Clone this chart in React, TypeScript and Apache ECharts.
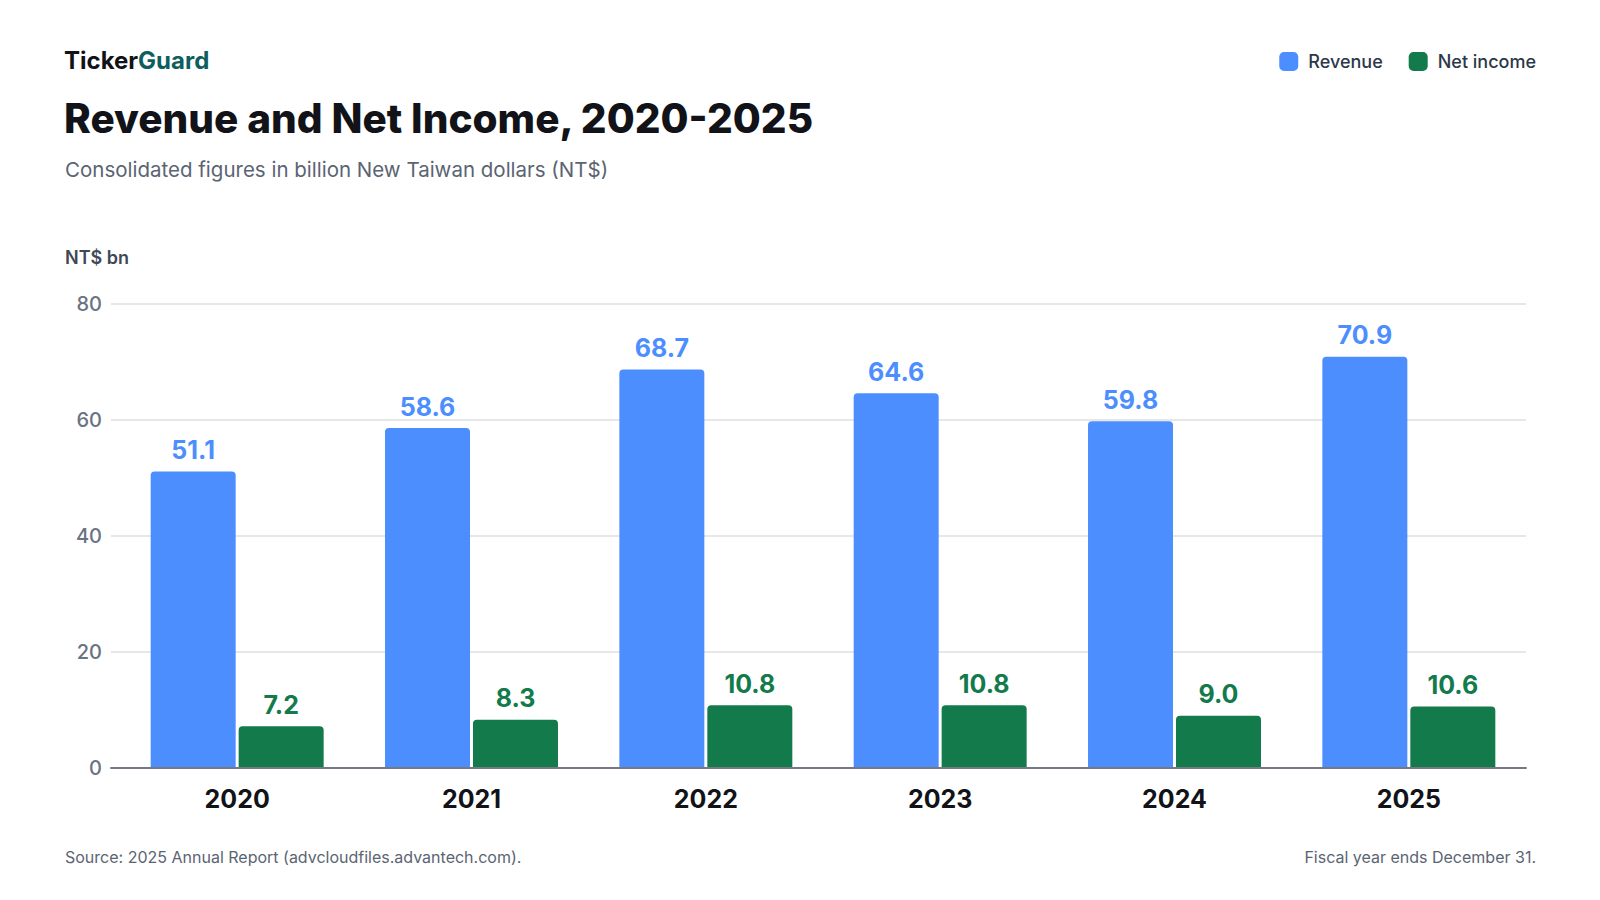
import React, { useEffect, useRef } from "react";
import * as echarts from "echarts";

const years = ["2020", "2021", "2022", "2023", "2024", "2025"];
const revenue = [51.1, 58.6, 68.7, 64.6, 59.8, 70.9];
const netIncome = [7.2, 8.3, 10.8, 10.8, 9.0, 10.6];
const seriesNames = ["Revenue", "Net income"];
const yTicks = { min: 0, max: 80, interval: 20 };

const BLUE = "#4D8EFF";
const GREEN = "#137A4B";
const FONT = "Inter, 'Noto Sans', sans-serif";

export default function App() {
  const ref = useRef<HTMLDivElement>(null);

  useEffect(() => {
    if (!ref.current) return;
    const chart = echarts.init(ref.current, undefined, { renderer: "svg" });
    const labelFmt = (p: any) => Number(p.value).toFixed(1);
    chart.setOption({
      animation: false,
      backgroundColor: "#ffffff",
      textStyle: { fontFamily: FONT },
      legend: {
        right: 59,
        top: 47,
        itemWidth: 19,
        itemHeight: 19,
        itemGap: 26,
        icon: "roundRect",
        data: seriesNames,
        textStyle: {
          fontFamily: FONT,
          fontSize: 18,
          fontWeight: 500,
          color: "#2D3748",
          padding: [0, 0, 0, 5],
        },
      },
      grid: [
        { left: 111, right: 74, top: 304, bottom: 132 },
        { left: 120, right: 74, top: 304, bottom: 132 },
      ],
      xAxis: [
        {
          type: "category",
          gridIndex: 0,
          data: years,
          z: 10,
          axisLine: { show: true, lineStyle: { color: "#747A83", width: 2 } },
          axisTick: { show: false },
          axisLabel: { show: false },
        },
        {
          type: "category",
          gridIndex: 1,
          data: years,
          axisLine: { show: false },
          axisTick: { show: false },
          axisLabel: {
            margin: 18,
            fontFamily: FONT,
            fontSize: 25,
            fontWeight: 700,
            color: "#111318",
          },
        },
      ],
      yAxis: [
        {
          type: "value",
          gridIndex: 0,
          min: yTicks.min,
          max: yTicks.max,
          interval: yTicks.interval,
          axisLine: { show: false },
          axisTick: { show: false },
          splitLine: { lineStyle: { color: "#E6E7E9", width: 2 } },
          axisLabel: {
            margin: 9,
            fontFamily: FONT,
            fontSize: 20,
            fontWeight: 500,
            color: "#6B7280",
          },
        },
        {
          type: "value",
          gridIndex: 1,
          min: yTicks.min,
          max: yTicks.max,
          interval: yTicks.interval,
          show: false,
          splitLine: { show: false },
        },
      ],
      series: [
        {
          name: seriesNames[0],
          type: "bar",
          xAxisIndex: 1,
          yAxisIndex: 1,
          data: revenue,
          barWidth: 85,
          barGap: "3.5%",
          itemStyle: { color: BLUE, borderRadius: [4, 4, 0, 0] },
          label: {
            show: true,
            position: "top",
            distance: 9,
            formatter: labelFmt,
            fontFamily: FONT,
            fontSize: 25,
            fontWeight: 700,
            color: BLUE,
          },
        },
        {
          name: seriesNames[1],
          type: "bar",
          xAxisIndex: 1,
          yAxisIndex: 1,
          data: netIncome,
          barWidth: 85,
          barGap: "3.5%",
          itemStyle: { color: GREEN, borderRadius: [4, 4, 0, 0] },
          label: {
            show: true,
            position: "top",
            distance: 9,
            formatter: labelFmt,
            fontFamily: FONT,
            fontSize: 25,
            fontWeight: 700,
            color: GREEN,
          },
        },
      ],
      graphic: [
        {
          type: "text",
          left: 64,
          top: 48,
          style: {
            text: "{a|Ticker}{b|Guard}",
            rich: {
              a: { fontFamily: FONT, fontSize: 24, fontWeight: 700, fill: "#111318" },
              b: { fontFamily: FONT, fontSize: 24, fontWeight: 700, fill: "#0F5E5E" },
            },
          },
        },
        {
          type: "text",
          x: 64,
          y: 118,
          style: {
            text: "Revenue and Net Income, 2020-2025",
            fontFamily: FONT,
            fontSize: 40.5,
            fontWeight: 800,
            fill: "#111318",
            verticalAlign: "middle",
          },
        },
        {
          type: "text",
          x: 65,
          y: 169,
          style: {
            text: "Consolidated figures in billion New Taiwan dollars (NT$)",
            fontFamily: FONT,
            fontSize: 20.5,
            fill: "#5B6472",
            verticalAlign: "middle",
          },
        },
        {
          type: "text",
          x: 65,
          y: 257,
          style: {
            text: "NT$ bn",
            fontFamily: FONT,
            fontSize: 18,
            fontWeight: 600,
            fill: "#3F4955",
            verticalAlign: "middle",
          },
        },
        {
          type: "text",
          x: 65,
          y: 857,
          style: {
            text: "Source: 2025 Annual Report (advcloudfiles.advantech.com).",
            fontFamily: FONT,
            fontSize: 16,
            fill: "#5B6472",
            verticalAlign: "middle",
          },
        },
        {
          type: "text",
          x: 1536,
          y: 857,
          style: {
            text: "Fiscal year ends December 31.",
            fontFamily: FONT,
            fontSize: 16,
            fill: "#5B6472",
            align: "right",
            verticalAlign: "middle",
          },
        },
      ],
    });
    return () => chart.dispose();
  }, []);

  return (
    <div
      ref={ref}
      style={{ position: "fixed", left: 0, top: 0, width: 1600, height: 900, background: "#fff" }}
    />
  );
}
